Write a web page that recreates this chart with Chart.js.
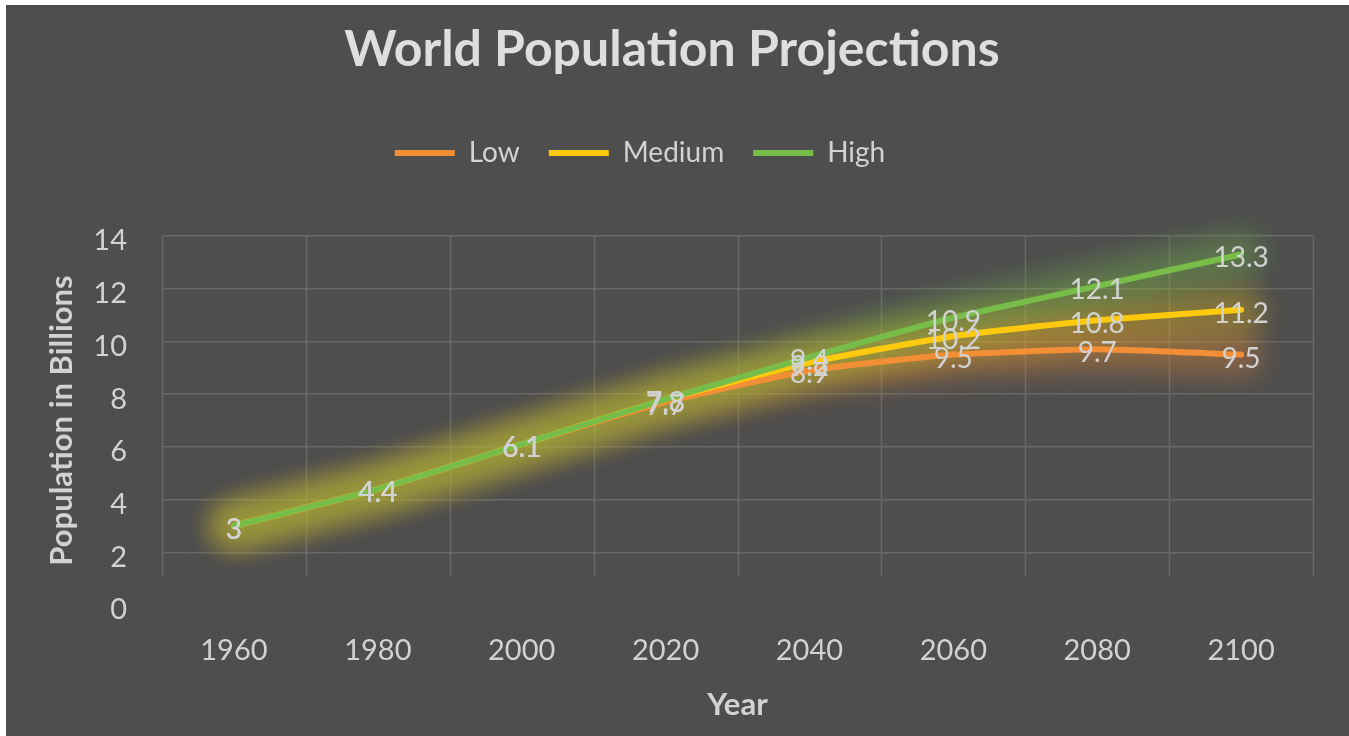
<!DOCTYPE html>
<html>
<head>
<meta charset="utf-8">
<title>World Population Projections</title>
<script src="https://cdn.jsdelivr.net/npm/chart.js@4.4.0/dist/chart.umd.min.js"></script>
<style>
  html, body { margin: 0; padding: 0; background: #ffffff; }
  #wrap { position: absolute; left: 6px; top: 5px; width: 1343px; height: 731px; background: #4e4e4e; }
  canvas { display: block; }
</style>
</head>
<body>
<div id="wrap"><canvas id="chart" width="1343" height="731"></canvas></div>
<script>
// Years on the category axis
const years = ['1960', '1980', '2000', '2020', '2040', '2060', '2080', '2100'];

// Population projections, billions
const lowSeries    = [3, 4.4, 6.1, 7.7, 8.9, 9.5, 9.7, 9.5];
const mediumSeries = [3, 4.4, 6.1, 7.8, 9.2, 10.2, 10.8, 11.2];
const highSeries   = [3, 4.4, 6.1, 7.8, 9.4, 10.9, 12.1, 13.3];

// Value axis ticks
const yTicks = [0, 2, 4, 6, 8, 10, 12, 14];

const TEXT = '#d2d2d2';
const GRID = '#686868';
const FONT = 'Lato';

const colors = { low: '#f28e36', medium: '#ffc90e', high: '#78bd49' };
const glows  = {
  low: 'rgba(242,142,54,0.34)',
  medium: 'rgba(255,201,14,0.32)',
  high: 'rgba(120,189,73,0.36)'
};

// Soft glow under each line, built from the points the library laid out
const lineGlow = {
  id: 'lineGlow',
  beforeDatasetsDraw(chart) {
    const ctx = chart.ctx;
    chart.data.datasets.forEach((ds, i) => {
      const pts = chart.getDatasetMeta(i).data;
      ctx.save();
      ctx.filter = 'blur(13px)';
      ctx.strokeStyle = ds.glowColor;
      ctx.lineWidth = 46;
      ctx.lineCap = 'round';
      ctx.lineJoin = 'round';
      ctx.beginPath();
      pts.forEach((p, k) => (k ? ctx.lineTo(p.x, p.y) : ctx.moveTo(p.x, p.y)));
      ctx.stroke();
      ctx.restore();
    });
  }
};

// Vertical grid lines between the year columns, stopping short of the zero line
const columnGrid = {
  id: 'columnGrid',
  beforeDatasetsDraw(chart) {
    const { ctx, chartArea, scales } = chart;
    const xs = scales.x, ys = scales.y;
    const half = (xs.getPixelForValue(1) - xs.getPixelForValue(0)) / 2;
    const bottom = ys.getPixelForValue(1.1);
    ctx.save();
    ctx.strokeStyle = GRID;
    ctx.lineWidth = 1.5;
    for (let i = 0; i <= years.length; i++) {
      const x = Math.round(xs.getPixelForValue(i) - half) + 0.5;
      ctx.beginPath();
      ctx.moveTo(x, chartArea.top);
      ctx.lineTo(x, bottom);
      ctx.stroke();
    }
    ctx.restore();
  }
};

// Value labels centred on every point
const pointLabels = {
  id: 'pointLabels',
  afterDatasetsDraw(chart) {
    const ctx = chart.ctx;
    ctx.save();
    ctx.font = '28px ' + FONT;
    ctx.fillStyle = TEXT;
    ctx.textAlign = 'center';
    ctx.textBaseline = 'middle';
    chart.data.datasets.forEach((ds, i) => {
      chart.getDatasetMeta(i).data.forEach((p, k) => {
        ctx.fillText(String(ds.data[k]), p.x, p.y + 4);
      });
    });
    ctx.restore();
  }
};

// Lift the legend row up under the title
const LEGEND_DX = -32;
const LEGEND_DY = -59;
const legendPlacement = {
  id: 'legendPlacement',
  afterLayout(chart) {
    const lg = chart.legend;
    lg.left += LEGEND_DX; lg.right += LEGEND_DX;
    lg.top += LEGEND_DY; lg.bottom += LEGEND_DY;
  }
};

// order: High is painted last so it sits on top of the other two
function series(label, data, key, order) {
  return {
    label,
    data,
    order,
    borderColor: colors[key],
    backgroundColor: colors[key],
    glowColor: glows[key],
    borderWidth: 6,
    borderCapStyle: 'round',
    borderJoinStyle: 'round',
    pointRadius: 0,
    pointHoverRadius: 0,
    tension: 0.15,
    fill: false
  };
}

new Chart(document.getElementById('chart'), {
  type: 'line',
  data: {
    labels: years,
    datasets: [
      series('Low', lowSeries, 'low', 2),
      series('Medium', mediumSeries, 'medium', 1),
      series('High', highSeries, 'high', 0)
    ]
  },
  plugins: [columnGrid, lineGlow, pointLabels, legendPlacement],
  options: {
    responsive: false,
    animation: false,
    events: [],
    layout: { padding: { left: 25, right: 36, top: 0, bottom: 0 } },
    plugins: {
      title: {
        display: true,
        text: 'World Population Projections',
        color: '#dedede',
        font: { family: FONT, size: 50, weight: 'bold' },
        padding: { top: 15, bottom: 89 }
      },
      legend: {
        display: true,
        position: 'top',
        labels: {
          color: TEXT,
          font: { family: FONT, size: 28 },
          usePointStyle: true,
          pointStyle: 'line',
          pointStyleWidth: 60,
          padding: 29,
          sort: (a, b) => a.datasetIndex - b.datasetIndex
        }
      },
      tooltip: { enabled: false }
    },
    scales: {
      x: {
        type: 'category',
        offset: true,
        grid: { display: false },
        border: { display: false },
        ticks: {
          color: TEXT,
          font: { family: FONT, size: 29 },
          padding: 20,
          maxRotation: 0
        },
        title: {
          display: true,
          text: 'Year',
          color: TEXT,
          font: { family: FONT, size: 31, weight: 'bold' },
          padding: { top: 0, bottom: 12.4 }
        },
        afterFit(scale) { scale.height = 131; }
      },
      y: {
        min: yTicks[0],
        max: yTicks[yTicks.length - 1],
        afterBuildTicks(scale) { scale.ticks = yTicks.map(v => ({ value: v })); },
        grid: {
          color: ctx => (ctx.tick && ctx.tick.value === 0 ? 'rgba(0,0,0,0)' : GRID),
          lineWidth: 1.5,
          drawTicks: false
        },
        border: { display: false },
        ticks: {
          color: TEXT,
          font: { family: FONT, size: 29 },
          padding: 35,
          labelOffset: 5
        },
        title: {
          display: true,
          text: 'Population in Billions',
          color: TEXT,
          font: { family: FONT, size: 31, weight: 'bold' },
          padding: { top: 12.4, bottom: 0 }
        },
        afterFit(scale) { scale.width = 131; }
      }
    }
  }
});
</script>
</body>
</html>
